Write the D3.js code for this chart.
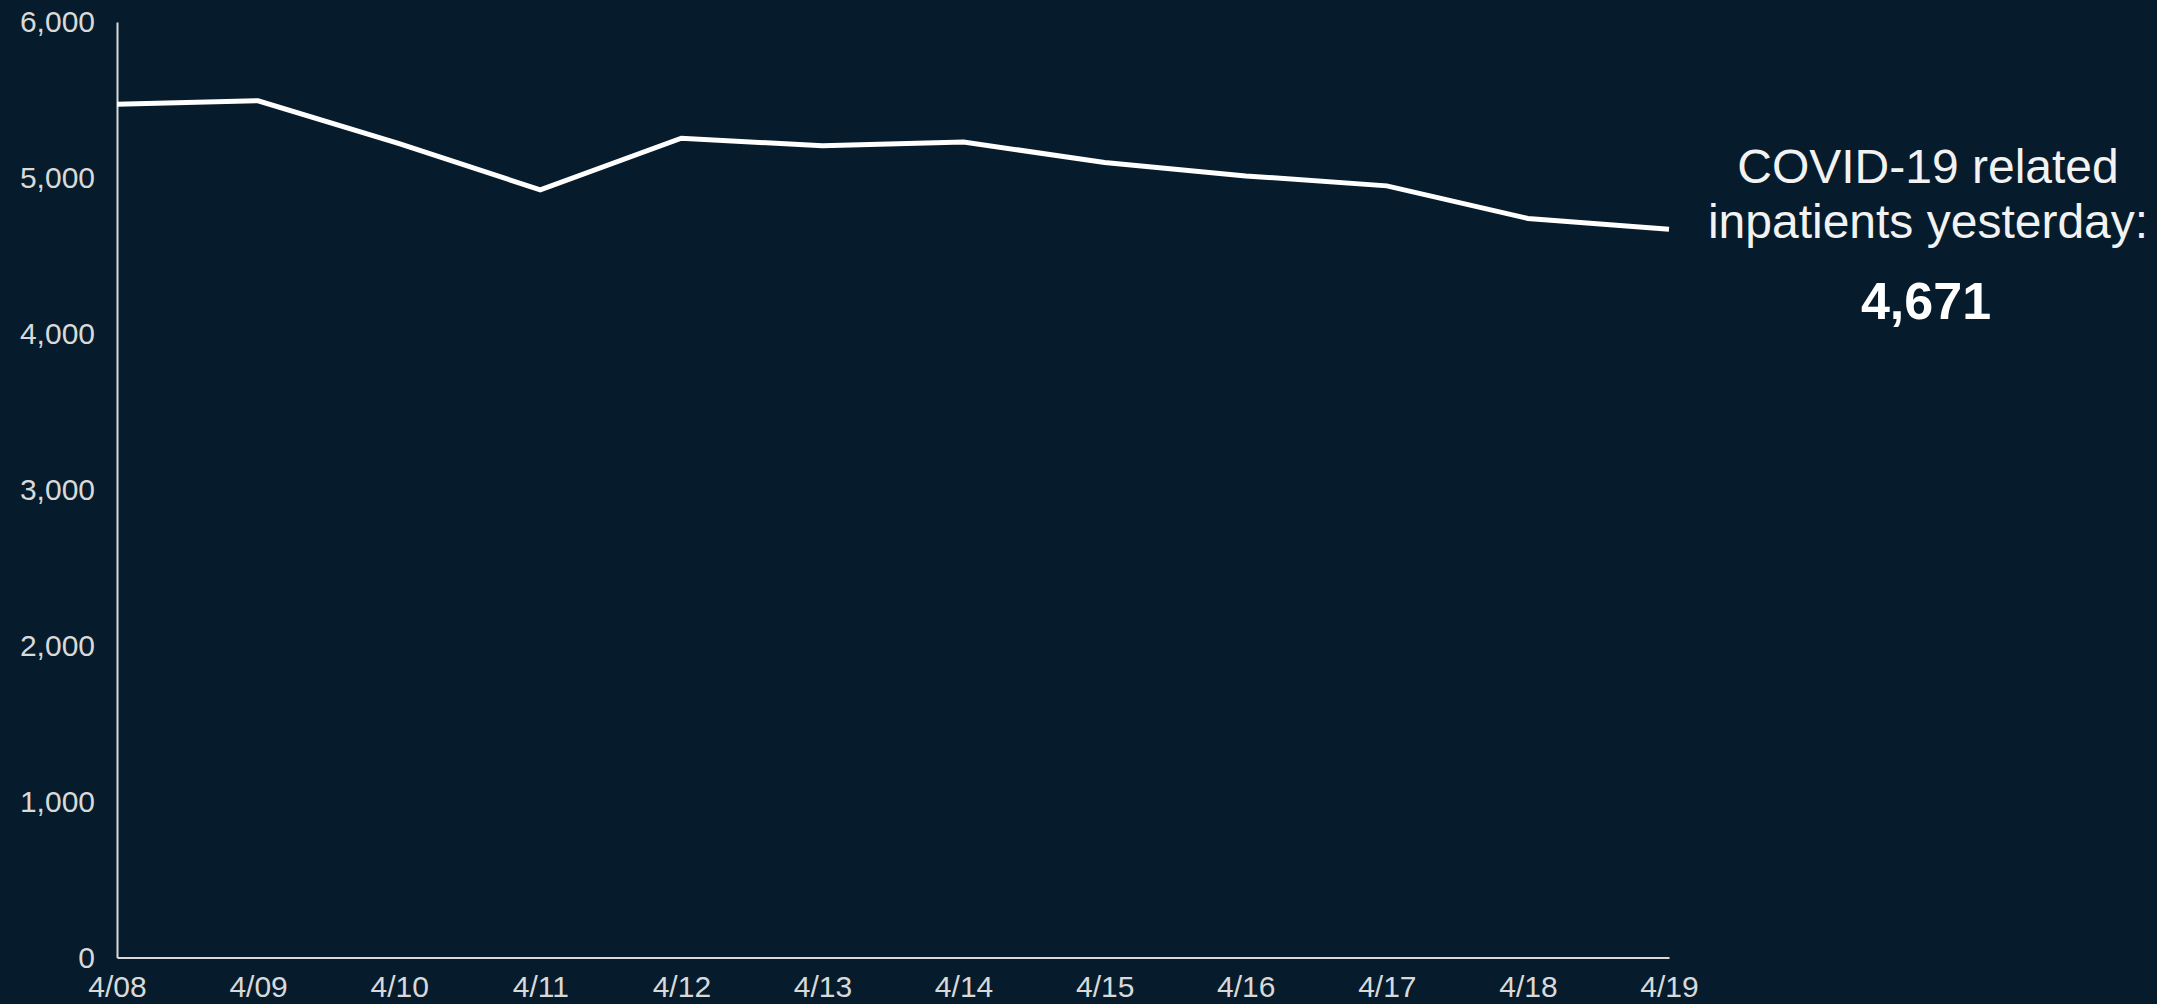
<!DOCTYPE html>
<html>
<head>
<meta charset="utf-8">
<script src="https://cdn.jsdelivr.net/npm/d3@7"></script>
<style>
  html, body { margin: 0; padding: 0; background: #061c2c; overflow: hidden; }
  svg { display: block; }
</style>
</head>
<body>
<svg id="chart" width="2157" height="1004"></svg>
<script>
const dates = ["4/08","4/09","4/10","4/11","4/12","4/13","4/14","4/15","4/16","4/17","4/18","4/19"];
const inpatients = [5472, 5495, 5220, 4923, 5255, 5206, 5230, 5099, 5013, 4949, 4740, 4671];
const yTicks = [0, 1000, 2000, 3000, 4000, 5000, 6000];
const annotationLines = ["COVID-19 related", "inpatients yesterday:"];
const annotationValue = "4,671";

const svg = d3.select("#chart");
svg.append("rect").attr("width", 2157).attr("height", 1004).attr("fill", "#061c2c");

const x = d3.scalePoint().domain(dates).range([117, 1669]);
const y = d3.scaleLinear().domain([0, 6000]).range([957.5, 22]);

const fmt = d3.format(",");

const yAxis = svg.append("g")
  .attr("transform", "translate(117,0)")
  .call(d3.axisLeft(y).tickValues(yTicks).tickFormat(fmt).tickSize(0).tickPadding(22));
const xAxis = svg.append("g")
  .attr("transform", "translate(0,957.5)")
  .call(d3.axisBottom(x).tickSize(0).tickPadding(18));

[yAxis, xAxis].forEach(g => {
  g.select(".domain").attr("stroke", "#d9d9d9").attr("stroke-width", 2);
  g.selectAll("text")
    .attr("fill", "#d9d9d9")
    .style("font-family", "'Liberation Sans', Arial, sans-serif")
    .style("font-size", "30px");
});

const line = d3.line()
  .x((d, i) => x(dates[i]))
  .y(d => y(d));

svg.append("path")
  .datum(inpatients)
  .attr("d", line)
  .attr("fill", "none")
  .attr("stroke", "#ffffff")
  .attr("stroke-width", 5)
  .attr("stroke-linejoin", "miter");

const ann = svg.append("g")
  .attr("fill", "#f2f2f2")
  .attr("text-anchor", "middle")
  .style("font-family", "'Liberation Sans', Arial, sans-serif");

ann.append("text").attr("x", 1928).attr("y", 183)
  .style("font-size", "48px").text(annotationLines[0]);
ann.append("text").attr("x", 1928).attr("y", 238)
  .style("font-size", "48px").text(annotationLines[1]);
ann.append("text").attr("x", 1926).attr("y", 319)
  .style("font-size", "52px").style("font-weight", "bold").attr("fill", "#ffffff")
  .text(annotationValue);
</script>
</body>
</html>
